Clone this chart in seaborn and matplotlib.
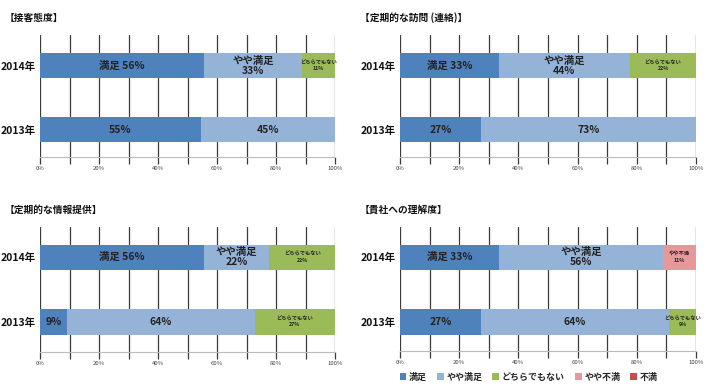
import numpy as np
import pandas as pd
import seaborn as sns
import matplotlib.pyplot as plt
from matplotlib.patches import Patch
from matplotlib.ticker import MultipleLocator, FuncFormatter

years = ['2014年', '2013年']
categories = ['満足', 'やや満足', 'どちらでもない', 'やや不満', '不満']
colors = ['#4F81BD', '#95B3D7', '#9BBB59', '#E6999A', '#C0504D']
big_cats = ['満足', 'やや満足']

titles = ['【接客態度】', '【定期的な訪問 (連絡)】', '【定期的な情報提供】', '【貴社への理解度】']

# percentages per category (same order as categories)
p1_2014 = [55.56, 33.33, 11.11, 0, 0]
p1_2013 = [54.55, 45.45, 0, 0, 0]
p2_2014 = [33.33, 44.44, 22.22, 0, 0]
p2_2013 = [27.27, 72.73, 0, 0, 0]
p3_2014 = [55.56, 22.22, 22.22, 0, 0]
p3_2013 = [9.09, 63.64, 27.27, 0, 0]
p4_2014 = [33.33, 55.56, 0, 11.11, 0]
p4_2013 = [27.27, 63.64, 9.09, 0, 0]

panels = [(p1_2014, p1_2013), (p2_2014, p2_2013), (p3_2014, p3_2013), (p4_2014, p4_2013)]

sns.set_style('white')
plt.rcParams['font.family'] = ['Noto Sans CJK JP', 'DejaVu Sans']

W, H = 711, 390
fig = plt.figure(figsize=(W / 100, H / 100), dpi=100)

# axes boxes in pixels: left, right, top, bottom
boxes = [(40, 335, 35, 157), (400, 696, 35, 157), (40, 335, 227, 352), (400, 696, 227, 351)]
ylims = [(1.43, -0.48), (1.43, -0.48), (1.465, -0.47), (1.45, -0.47)]
title_pos = [(5, 18), (360, 18), (5, 210), (360, 210)]
grid_col = '#3a3a3a'

for k, (v2014, v2013) in enumerate(panels):
    l, r, t, b = boxes[k]
    ax = fig.add_axes([l / W, 1 - b / H, (r - l) / W, (b - t) / H])

    rows = []
    for yr, vals in zip(years, [v2014, v2013]):
        cum = 0
        for cat, v in zip(categories, vals):
            cum += v
            rows.append({'year': yr, 'category': cat, 'value': v, 'cum': cum})
    df = pd.DataFrame(rows)
    df = df[df['value'] > 0]

    # stacked bars: draw cumulative totals from the last category back to the first
    for cat, col in reversed(list(zip(categories, colors))):
        sub = df[df['category'] == cat]
        if sub.empty:
            continue
        sns.barplot(data=sub, x='cum', y='year', order=years, color=col, width=0.39,
                    saturation=1, errorbar=None, linewidth=0, ax=ax, zorder=3)

    for _, row in df.iterrows():
        i = years.index(row['year'])
        xc = row['cum'] - row['value'] / 2
        pct = f"{round(row['value'])}%"
        if row['category'] in big_cats:
            if row['year'] == '2014年':
                if row['category'] == '満足':
                    label = f"満足 {pct}"
                else:
                    label = f"やや満足\n{pct}"
            else:
                label = pct
            ax.text(xc, i, label, ha='center', va='center', fontsize=7.5,
                    fontweight='bold', color='#222222', linespacing=1.0, zorder=5)
        else:
            ax.text(xc, i, f"{row['category']}\n{pct}", ha='center', va='center',
                    fontsize=3.8, fontweight='bold', color='#222222', zorder=5)

    ax.set_xlim(0, 100)
    ax.set_ylim(*ylims[k])
    ax.set_xlabel('')
    ax.set_ylabel('')
    ax.xaxis.set_major_locator(MultipleLocator(20))
    ax.xaxis.set_minor_locator(MultipleLocator(10))
    ax.xaxis.set_major_formatter(FuncFormatter(lambda v, p: f"{int(v)}%"))
    ax.grid(True, which='both', axis='x', color=grid_col, linewidth=0.9, zorder=0)
    ax.grid(False, axis='y')
    ax.tick_params(axis='x', which='both', direction='out', length=5, width=0.9,
                   color=grid_col, labelsize=4.3, labelcolor='#444444', pad=1.5, bottom=True)
    ax.tick_params(axis='y', length=0, labelsize=7.5, pad=3)
    for lab in ax.get_yticklabels():
        lab.set_fontweight('bold')
        lab.set_color('#111111')
    for side in ['top', 'left', 'right']:
        ax.spines[side].set_visible(False)
    ax.spines['bottom'].set_color('#bbbbbb')
    ax.spines['bottom'].set_linewidth(0.8)

    tx, ty = title_pos[k]
    fig.text(tx / W, 1 - ty / H, titles[k], ha='left', va='center', fontsize=7,
             fontweight='bold', color='#111111')

handles = [Patch(facecolor=c, edgecolor='none', label=cat) for cat, c in zip(categories, colors)]
leg = fig.legend(handles=handles, loc='center left', bbox_to_anchor=(396 / W, 1 - 377 / H),
                 ncol=5, frameon=False, fontsize=6.5, handlelength=0.75, handleheight=0.75,
                 handletextpad=0.3, columnspacing=1.1, borderaxespad=0)
for txt in leg.get_texts():
    txt.set_fontweight('bold')

fig.savefig('out.png', dpi=100)
